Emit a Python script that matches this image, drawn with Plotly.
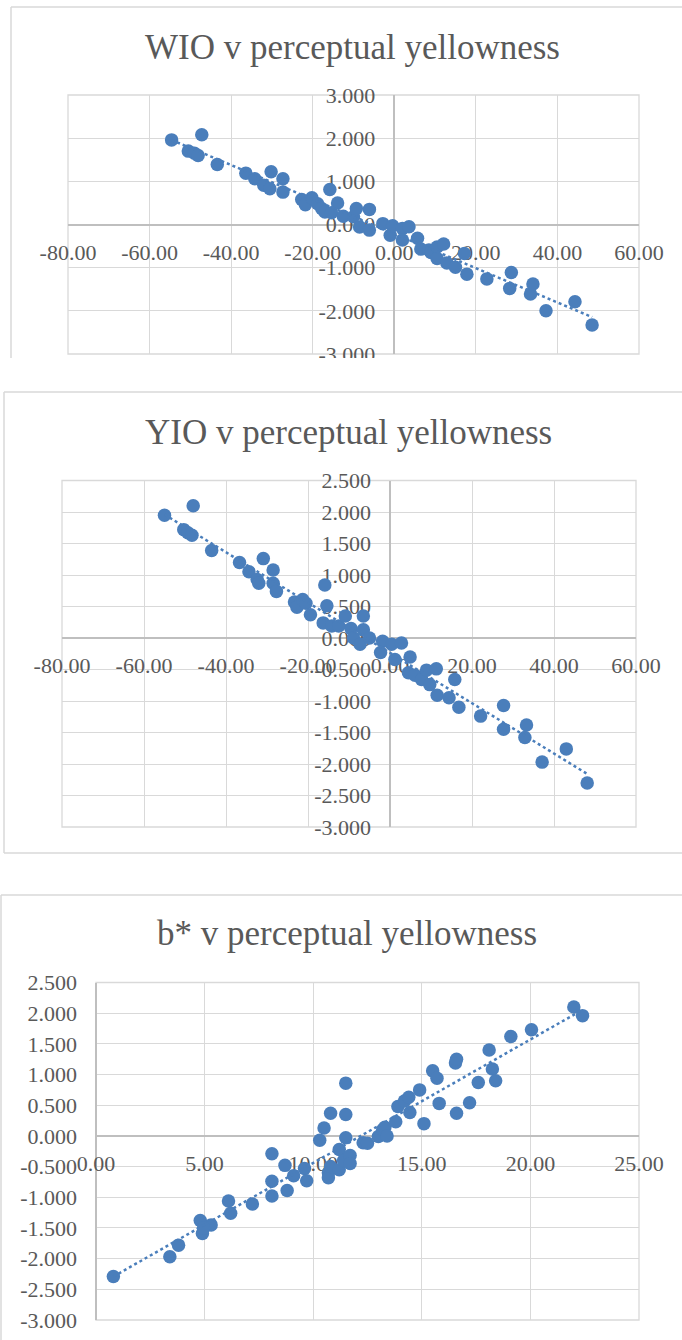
import numpy as np
import plotly.graph_objects as go

# ---------------- data ----------------
wio_x = [-54.6, -50.5, -49.0, -48.1, -47.2, -43.4, -36.4, -34.2, -32.0, -30.5, -30.2,
         -27.3, -27.3, -22.7, -21.8, -20.2, -18.8, -17.8, -17.0, -15.8, -15.4, -13.9,
         -12.5, -10.0, -9.3, -8.5, -6.1, -6.1, -2.8, -1.0, -0.4, 2.0, 3.6, 2.0, 5.7,
         6.5, 8.5, 9.0, 10.5, 12.1, 10.5, 12.9, 15.0, 17.2, 17.8, 22.7, 28.3, 28.7,
         33.4, 34.0, 37.2, 44.3, 48.5]
wio_y = [1.96, 1.70, 1.65, 1.60, 2.08, 1.39, 1.19, 1.06, 0.91, 0.83, 1.22,
         1.06, 0.75, 0.58, 0.46, 0.62, 0.48, 0.37, 0.29, 0.81, 0.27, 0.50,
         0.19, 0.18, 0.37, -0.06, 0.35, -0.13, 0.02, -0.25, -0.03, -0.09, -0.05, -0.36, -0.32,
         -0.57, -0.59, -0.65, -0.52, -0.45, -0.79, -0.89, -0.99, -0.67, -1.15, -1.26, -1.48, -1.11,
         -1.61, -1.38, -2.00, -1.79, -2.33]

yio_x = [-55.0, -50.3, -49.3, -48.3, -48.0, -43.5, -36.7, -34.4, -32.4, -32.0, -30.9,
         -28.5, -28.5, -27.7, -23.3, -22.7, -21.3, -20.5, -19.4, -16.3, -15.9, -15.4,
         -14.2, -12.5, -10.9, -9.5, -8.9, -7.3, -6.5, -6.5, -5.0, -1.8, -2.3, 0.4, 2.8,
         1.2, 4.9, 4.5, 6.1, 7.7, 8.9, 9.7, 11.3, 11.5, 14.4, 15.8, 16.8, 22.1, 27.7,
         27.7, 33.3, 32.9, 37.1, 43.0, 48.1]
yio_y = [1.95, 1.72, 1.67, 1.63, 2.10, 1.39, 1.20, 1.05, 0.93, 0.87, 1.26,
         1.08, 0.87, 0.74, 0.57, 0.49, 0.61, 0.55, 0.37, 0.24, 0.84, 0.51,
         0.19, 0.19, 0.35, 0.15, 0.00, -0.10, 0.35, 0.13, 0.00, -0.05, -0.23, -0.10, -0.08,
         -0.34, -0.30, -0.55, -0.59, -0.66, -0.51, -0.74, -0.49, -0.91, -0.95, -0.66, -1.10, -1.24, -1.07,
         -1.45, -1.38, -1.58, -1.97, -1.76, -2.30]

bstar_x = [0.8, 3.4, 3.8, 4.8, 4.9, 5.3, 4.95, 6.1, 6.2, 7.2, 8.1, 8.1, 8.1, 8.7, 8.8,
           9.1, 9.6, 9.7, 10.3, 10.5, 10.8, 10.7, 10.7, 10.8, 11.2, 11.2, 11.5, 11.5,
           11.5, 11.4, 11.7, 11.7, 12.3, 12.5, 13.0, 13.2, 13.3, 13.4, 13.8, 13.9, 14.2,
           14.4, 14.45, 14.9, 15.1, 15.5, 15.7, 15.8, 16.55, 16.6, 16.6, 17.2, 17.6,
           18.1, 18.25, 18.4, 19.1, 20.05, 22.0, 22.4]
bstar_y = [-2.29, -1.97, -1.78, -1.38, -1.59, -1.45, -1.50, -1.06, -1.26, -1.11, -0.29, -0.74, -0.98, -0.48, -0.89,
           -0.65, -0.53, -0.73, -0.07, 0.13, 0.37, -0.60, -0.68, -0.50, -0.22, -0.55, 0.86, 0.35,
           -0.03, -0.40, -0.32, -0.45, -0.11, -0.12, -0.01, 0.10, 0.14, 0.00, 0.23, 0.48, 0.57,
           0.63, 0.38, 0.75, 0.20, 1.06, 0.94, 0.53, 1.19, 1.25, 0.37, 0.54, 0.87,
           1.40, 1.09, 0.90, 1.62, 1.73, 2.10, 1.96]

titles = ["WIO v perceptual yellowness", "YIO v perceptual yellowness", "b* v perceptual yellowness"]

wide_xtick_vals = [-80, -60, -40, -20, 0, 20, 40, 60]
wide_xtick_text = ["-80.00", "-60.00", "-40.00", "-20.00", "0.00", "20.00", "40.00", "60.00"]
b_xtick_vals = [0, 5, 10, 15, 20, 25]
b_xtick_text = ["0.00", "5.00", "10.00", "15.00", "20.00", "25.00"]
wio_ytick_vals = [-3, -2, -1, 0, 1, 2, 3]
wio_ytick_text = ["-3.000", "-2.000", "-1.000", "0.000", "1.000", "2.000", "3.000"]
half_ytick_vals = [-3.0, -2.5, -2.0, -1.5, -1.0, -0.5, 0.0, 0.5, 1.0, 1.5, 2.0, 2.5]
half_ytick_text = ["-3.000", "-2.500", "-2.000", "-1.500", "-1.000", "-0.500",
                   "0.000", "0.500", "1.000", "1.500", "2.000", "2.500"]

# ---------------- styling / layout ----------------
W, H = 682, 1340
BLUE = "#4A7EBB"
GRID = "#d9d9d9"
ZERO = "#bfbfbf"
TXT = "#595959"
FONT = "Liberation Serif"

panels = [
    dict(x=wio_x, y=wio_y, xr=[-80, 60], yr=[-3, 3], px=(68, 639), py=(95, 354),
         xt=(wide_xtick_vals, wide_xtick_text), yt=(wio_ytick_vals, wio_ytick_text),
         title_xy=(352, 47)),
    dict(x=yio_x, y=yio_y, xr=[-80, 60], yr=[-3, 2.5], px=(62, 636), py=(480.5, 827),
         xt=(wide_xtick_vals, wide_xtick_text), yt=(half_ytick_vals, half_ytick_text),
         title_xy=(348, 432)),
    dict(x=bstar_x, y=bstar_y, xr=[0, 25], yr=[-3, 2.5], px=(96, 639), py=(982.5, 1320),
         xt=(b_xtick_vals, b_xtick_text), yt=(half_ytick_vals, half_ytick_text),
         title_xy=(347, 933)),
]

def fx(p):
    return p / W

def fy(p):
    return 1 - p / H

fig = go.Figure()
layout = dict(width=W, height=H, margin=dict(l=0, r=0, t=0, b=0),
              paper_bgcolor="white", plot_bgcolor="white", showlegend=False,
              font=dict(family=FONT, color=TXT))
shapes = []
annotations = []

for i, p in enumerate(panels, start=1):
    sx = "" if i == 1 else str(i)
    xd = [fx(p["px"][0]), fx(p["px"][1])]
    yd = [fy(p["py"][1]), fy(p["py"][0])]
    # where the zero lines sit (paper coords)
    ypos0 = yd[0] + (0 - p["yr"][0]) / (p["yr"][1] - p["yr"][0]) * (yd[1] - yd[0])
    xpos0 = xd[0] + (0 - p["xr"][0]) / (p["xr"][1] - p["xr"][0]) * (xd[1] - xd[0])

    x = np.array(p["x"]); y = np.array(p["y"])
    fig.add_trace(go.Scatter(x=x, y=y, mode="markers", xaxis="x" + sx, yaxis="y" + sx,
                             marker=dict(color=BLUE, size=13.5, line=dict(width=0))))
    k, b = np.polyfit(x, y, 1)
    xs = np.array([x.min(), x.max()])
    fig.add_trace(go.Scatter(x=xs, y=k * xs + b, mode="lines", xaxis="x" + sx, yaxis="y" + sx,
                             line=dict(color=BLUE, width=2.5, dash="dot")))

    layout["xaxis" + sx] = dict(domain=xd, range=p["xr"], anchor="free", position=ypos0,
                                tickvals=p["xt"][0], ticktext=p["xt"][1],
                                showgrid=True, gridcolor=GRID, gridwidth=1.3,
                                zeroline=True, zerolinecolor=ZERO, zerolinewidth=1.5,
                                showline=False, ticks="", ticklabelstandoff=12,
                                tickfont=dict(family=FONT, size=22, color=TXT),
                                layer="below traces", fixedrange=True, automargin=False)
    layout["yaxis" + sx] = dict(domain=yd, range=p["yr"], anchor="free", position=xpos0,
                                tickvals=p["yt"][0], ticktext=p["yt"][1],
                                showgrid=True, gridcolor=GRID, gridwidth=1.3,
                                zeroline=True, zerolinecolor=ZERO, zerolinewidth=1.5,
                                showline=False, ticks="", ticklabelstandoff=19,
                                tickfont=dict(family=FONT, size=22, color=TXT),
                                layer="below traces", fixedrange=True, automargin=False)
    shapes.append(dict(type="rect", xref="x" + sx + " domain", yref="y" + sx + " domain",
                       x0=0, x1=1, y0=0, y1=1, line=dict(color=GRID, width=1.3), layer="below"))
    annotations.append(dict(text=titles[i - 1], xref="paper", yref="paper",
                            x=fx(p["title_xy"][0]), y=fy(p["title_xy"][1]),
                            xanchor="center", yanchor="middle", showarrow=False,
                            font=dict(family=FONT, size=35, color=TXT)))

# chart frames (cropped screenshot of three Excel charts)
def seg(x0, y0, x1, y1):
    shapes.append(dict(type="line", xref="paper", yref="paper", x0=fx(x0), y0=fy(y0),
                       x1=fx(x1), y1=fy(y1), line=dict(color=GRID, width=1.5), layer="above"))

# white band where the first chart is cropped off
shapes.append(dict(type="rect", xref="paper", yref="paper", x0=0, x1=1, y0=fy(391), y1=fy(358),
                   fillcolor="white", line=dict(width=0), layer="above"))
seg(11, 7, 11, 358); seg(11, 7, 690, 7)
seg(4, 392, 4, 853); seg(4, 392, 690, 392); seg(4, 853, 690, 853)
seg(1, 895, 1, 1345); seg(1, 895, 690, 895)

layout["shapes"] = shapes
layout["annotations"] = annotations
fig.update_layout(**layout)
fig.write_html("out.html", config={"displayModeBar": False},
               post_script="document.body.style.margin='0px';document.body.style.overflow='hidden';")
